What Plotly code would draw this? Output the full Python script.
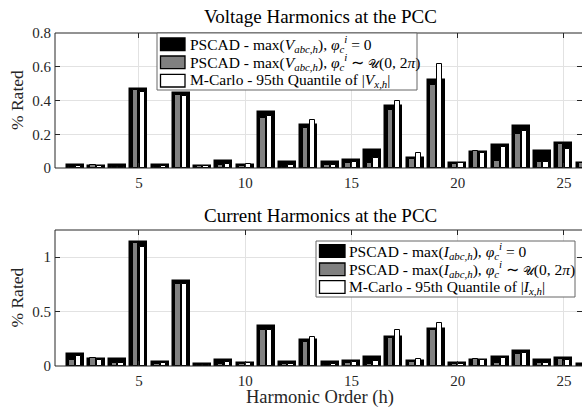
import plotly.graph_objects as go

harmonics = list(range(2, 27))

# Voltage harmonics (% rated)
v_phi0 = [0.018, 0.014, 0.018, 0.466, 0.018, 0.444, 0.011, 0.042, 0.020, 0.333, 0.036, 0.252, 0.036,
          0.047, 0.104, 0.366, 0.058, 0.519, 0.032, 0.095, 0.137, 0.248, 0.099, 0.146, 0.032]
v_phirand = [0.008, 0.018, 0.008, 0.460, 0.004, 0.434, 0.011, 0.016, 0.012, 0.298, 0.008, 0.236, 0.020,
             0.031, 0.031, 0.346, 0.052, 0.493, 0.026, 0.100, 0.044, 0.202, 0.038, 0.143, 0.030]
v_mc95 = [0.014, 0.012, 0.008, 0.452, 0.014, 0.428, 0.009, 0.022, 0.026, 0.310, 0.018, 0.282, 0.018,
          0.034, 0.060, 0.396, 0.088, 0.618, 0.028, 0.088, 0.127, 0.218, 0.038, 0.110, 0.020]

# Current harmonics (% rated)
i_phi0 = [0.108, 0.060, 0.060, 1.138, 0.040, 0.777, 0.016, 0.053, 0.027, 0.367, 0.036, 0.235, 0.034,
          0.043, 0.080, 0.263, 0.043, 0.336, 0.024, 0.058, 0.080, 0.135, 0.052, 0.073, 0.015]
i_phirand = [0.055, 0.070, 0.031, 1.128, 0.016, 0.755, 0.012, 0.022, 0.019, 0.330, 0.022, 0.220, 0.012,
             0.028, 0.018, 0.257, 0.037, 0.330, 0.018, 0.061, 0.024, 0.113, 0.030, 0.064, 0.010]
i_mc95 = [0.093, 0.055, 0.024, 1.098, 0.031, 0.755, 0.012, 0.034, 0.030, 0.328, 0.022, 0.266, 0.015,
          0.034, 0.049, 0.333, 0.061, 0.398, 0.015, 0.052, 0.073, 0.119, 0.030, 0.052, 0.010]

x_ticks = [5, 10, 15, 20, 25]
v_ticks = [0, 0.2, 0.4, 0.6, 0.8]
v_ticklabels = ["0", "0.2", "0.4", "0.6", "0.8"]
i_ticks = [0, 0.5, 1]
i_ticklabels = ["0", "0.5", "1"]

titles = ["Voltage Harmonics at the PCC", "Current Harmonics at the PCC"]
x_title = "Harmonic Order (h)"
y_title = "% Rated"
U = '<span style="font-size:12px">𝒰</span>'
legend_v = [
    "PSCAD - max(<i>V</i><sub><i>abc,h</i></sub>), <i>φ</i><sub><i>c</i></sub><sup><i>i</i></sup> = 0",
    "PSCAD - max(<i>V</i><sub><i>abc,h</i></sub>), <i>φ</i><sub><i>c</i></sub><sup><i>i</i></sup> ∼ " + U + "(0, 2<i>π</i>)",
    "M-Carlo - 95th Quantile of |<i>V</i><sub><i>x,h</i></sub>|",
]
legend_i = [
    "PSCAD - max(<i>I</i><sub><i>abc,h</i></sub>), <i>φ</i><sub><i>c</i></sub><sup><i>i</i></sup> = 0",
    "PSCAD - max(<i>I</i><sub><i>abc,h</i></sub>), <i>φ</i><sub><i>c</i></sub><sup><i>i</i></sup> ∼ " + U + "(0, 2<i>π</i>)",
    "M-Carlo - 95th Quantile of |<i>I</i><sub><i>x,h</i></sub>|",
]

W, H = 582, 408
FONT = "Liberation Serif"
AX = "#262626"
GRID = "#e2e2e2"
GRAY = "#808080"
X_LEFT = 55


def px(x):
    return x / W


def py(y):
    return 1 - y / H


fig = go.Figure()

styles = [
    dict(color="#000000", width=0.8, offset=-0.4, lw=1.5),
    dict(color=GRAY, width=0.25, offset=-0.28, lw=1.0),
    dict(color="#ffffff", width=0.25, offset=0.03, lw=1.0),
]

for series, (xa, ya) in [((v_phi0, v_phirand, v_mc95), ("x", "y")),
                         ((i_phi0, i_phirand, i_mc95), ("x2", "y2"))]:
    for vals, st in zip(series, styles):
        fig.add_trace(go.Bar(
            x=harmonics, y=vals, xaxis=xa, yaxis=ya,
            width=st["width"], offset=st["offset"],
            marker=dict(color=st["color"], line=dict(color="#000000", width=st["lw"])),
            showlegend=False, hoverinfo="skip",
        ))

xr = [1.05, 25.85]
common_x = dict(range=xr, tickvals=x_ticks, ticktext=[str(t) for t in x_ticks],
                showgrid=True, gridcolor=GRID, gridwidth=1, zeroline=False,
                showline=False, mirror="ticks",
                ticks="inside", ticklen=5, tickcolor=AX, automargin=False,
                tickfont=dict(family=FONT, size=15, color="#262626"),
                domain=[px(X_LEFT), 1.0], ticklabelstandoff=4)
common_y = dict(showgrid=True, gridcolor=GRID, gridwidth=1, zeroline=False,
                showline=False, mirror="ticks",
                ticks="inside", ticklen=5, tickcolor=AX, automargin=False,
                tickfont=dict(family=FONT, size=15, color="#262626"), ticklabelstandoff=3)

top_dom = [py(168), py(33)]
bot_dom = [py(366), py(230)]

fig.update_layout(
    template="none",
    width=W, height=H, margin=dict(l=0, r=0, t=0, b=0, pad=0, autoexpand=False),
    paper_bgcolor="white", plot_bgcolor="white",
    barmode="overlay", bargap=0,
    xaxis=dict(anchor="y", **common_x),
    yaxis=dict(anchor="x", domain=top_dom, range=[0, 0.8],
               tickvals=v_ticks, ticktext=v_ticklabels, **common_y),
    xaxis2=dict(anchor="y2", **common_x),
    yaxis2=dict(anchor="x2", domain=bot_dom, range=[0, 1.25],
                tickvals=i_ticks, ticktext=i_ticklabels, **common_y),
)

annotations = []
shapes = []

# axes frame (left, top, bottom); right side lies beyond the visible area
for dom in [top_dom, bot_dom]:
    for (x0, y0, x1, y1) in [(px(X_LEFT), dom[0], px(X_LEFT), dom[1]),
                             (px(X_LEFT), dom[1], 1.0, dom[1]),
                             (px(X_LEFT), dom[0], 1.0, dom[0])]:
        shapes.append(dict(type="line", xref="paper", yref="paper", x0=x0, y0=y0, x1=x1, y1=y1,
                           line=dict(color=AX, width=1), layer="above"))

# titles
for t, yc in zip(titles, [17, 215]):
    annotations.append(dict(text=t, x=px(320), y=py(yc), xref="paper", yref="paper",
                            xanchor="center", yanchor="middle", showarrow=False,
                            font=dict(family=FONT, size=19, color="#000000")))
# y titles
for yc in [100.5, 298]:
    annotations.append(dict(text=y_title, x=px(16.5), y=py(yc), xref="paper", yref="paper",
                            xanchor="center", yanchor="middle", showarrow=False, textangle=-90,
                            font=dict(family=FONT, size=17.5, color="#262626")))
# x title
annotations.append(dict(text=x_title, x=px(320), y=py(397.5), xref="paper", yref="paper",
                        xanchor="center", yanchor="middle", showarrow=False,
                        font=dict(family=FONT, size=18.5, color="#262626")))

fills = ["#000000", GRAY, "#ffffff"]


def add_legend(box, sym_x, rows, text_x, labels):
    x0, y0, x1, y1 = box
    shapes.append(dict(type="rect", xref="paper", yref="paper",
                       x0=px(x0), x1=px(x1), y0=py(y1), y1=py(y0),
                       fillcolor="white", line=dict(color="#666666", width=1), layer="above"))
    for yc, f, lab in zip(rows, fills, labels):
        shapes.append(dict(type="rect", xref="paper", yref="paper",
                           x0=px(sym_x[0]), x1=px(sym_x[1]), y0=py(yc + 6.3), y1=py(yc - 6.3),
                           fillcolor=f, line=dict(color="#000000", width=1.3), layer="above"))
        annotations.append(dict(text=lab, x=px(text_x), y=py(yc), xref="paper", yref="paper",
                                xanchor="left", yanchor="middle", showarrow=False,
                                font=dict(family=FONT, size=15.5, color="#000000")))


add_legend((157, 33, 417, 90), (160.5, 185), [44.3, 62.3, 80.7], 188, legend_v)
add_legend((316, 241, 575, 297), (319.5, 345), [251, 269.3, 287], 347, legend_i)

fig.update_layout(annotations=annotations, shapes=shapes)

fig.write_html("out.html")
